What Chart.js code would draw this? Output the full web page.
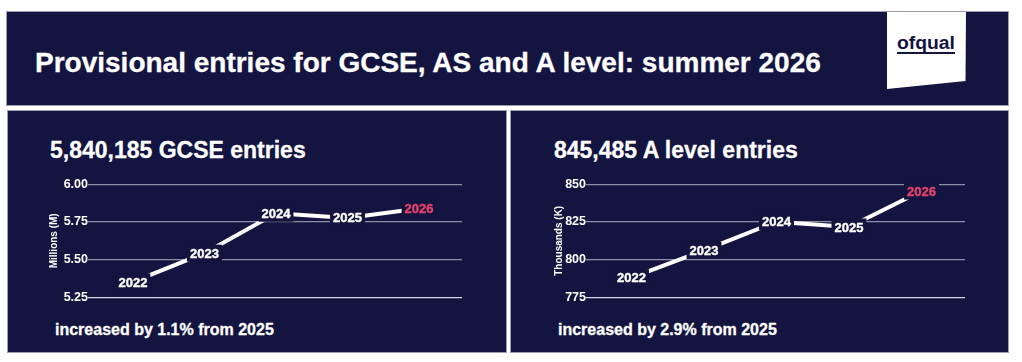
<!DOCTYPE html>
<html>
<head>
<meta charset="utf-8">
<script src="https://cdn.jsdelivr.net/npm/chart.js@4.4.1/dist/chart.umd.min.js"></script>
<style>
  body { margin: 0; background: #fff; width: 1022px; height: 362px; position: relative; overflow: hidden;
         font-family: "Liberation Sans", Arial, sans-serif; }
  .box { position: absolute; background: #13143f; box-sizing: border-box; border: 1px solid #9a9db4; }
  .txt { position: absolute; color: #fff; font-weight: bold; white-space: nowrap; line-height: 1;
         -webkit-text-stroke: 0.3px #fff; }
  canvas { position: absolute; }
</style>
</head>
<body>
<div class="box" style="left:6px;top:11px;width:1003px;height:95px;"></div>
<svg style="position:absolute;left:0;top:0" width="1022" height="120">
  <polygon points="887,12 966,12 965.5,81 887,89" fill="#fff"/>
  <text x="897" y="49" font-family="Liberation Sans, Arial" font-weight="bold" font-size="18" fill="#13143f"
        textLength="58" lengthAdjust="spacingAndGlyphs">ofqual</text>
  <rect x="897" y="52" width="58" height="2" fill="#13143f"/>
</svg>
<div class="txt" style="left:35px;top:49px;font-size:28px;">Provisional entries for GCSE, AS and A level: summer 2026</div>

<div class="box" style="left:7px;top:110px;width:500px;height:243px;"></div>
<div class="box" style="left:510px;top:110px;width:499px;height:243px;"></div>

<div class="txt" style="left:50px;top:139px;font-size:23px;">5,840,185 GCSE entries</div>
<div class="txt" style="left:554px;top:139px;font-size:23px;">845,485 A level entries</div>
<div class="txt" style="left:55px;top:322px;font-size:16px;">increased by 1.1% from 2025</div>
<div class="txt" style="left:558px;top:322px;font-size:16px;">increased by 2.9% from 2025</div>

<canvas id="gcse" width="500" height="243" style="left:7px;top:110px;"></canvas>
<canvas id="alevel" width="499" height="243" style="left:510px;top:110px;"></canvas>

<script>
const years = [2022, 2023, 2024, 2025, 2026];
const gcseValues = [5.352, 5.543, 5.808, 5.777, 5.840];      // millions
const alevelValues = [788.0, 806.1, 825.2, 821.7, 845.5];    // thousands
const gcseTicks = [5.25, 5.50, 5.75, 6.00];
const alevelTicks = [775, 800, 825, 850];

const navy = '#13143f';

// draws the year label on each point with a navy box that hides the line under it
const yearLabels = {
  id: 'yearLabels',
  afterDatasetsDraw(chart) {
    const ctx = chart.ctx;
    const meta = chart.getDatasetMeta(0);
    ctx.save();
    ctx.font = 'bold 13px "Liberation Sans", Arial, sans-serif';
    ctx.textAlign = 'center';
    ctx.textBaseline = 'middle';
    ctx.lineWidth = 0.4;
    meta.data.forEach((pt, i) => {
      const label = String(years[i]);
      const w = ctx.measureText(label).width + 6;
      const h = 17;
      ctx.fillStyle = navy;
      ctx.fillRect(pt.x - w / 2, pt.y - h / 2, w, h);
      const col = i === years.length - 1 ? '#e4426c' : '#ffffff';
      ctx.fillStyle = col;
      ctx.strokeStyle = col;
      ctx.fillText(label, pt.x, pt.y + 1);
      ctx.strokeText(label, pt.x, pt.y + 1);
    });
    ctx.restore();
  }
};

function makeChart(id, values, ticks, title, axisWidth, titlePad, rightPad, decimals) {
  const ctx = document.getElementById(id).getContext('2d');
  return new Chart(ctx, {
    type: 'line',
    data: {
      datasets: [{
        data: years.map((y, i) => ({ x: y, y: values[i] })),
        borderColor: '#ffffff',
        borderWidth: 4,
        pointRadius: 0,
        tension: 0
      }]
    },
    options: {
      animation: false,
      responsive: false,
      events: [],
      layout: { padding: { left: 0, right: rightPad, top: 74.3, bottom: 55.7 } },
      plugins: { legend: { display: false }, tooltip: { enabled: false } },
      scales: {
        x: { type: 'linear', min: 2021.4, max: 2026.6, display: false },
        y: {
          min: ticks[0],
          max: ticks[ticks.length - 1],
          afterBuildTicks: (scale) => { scale.ticks = ticks.map(v => ({ value: v })); },
          afterFit: (scale) => { scale.width = axisWidth; },
          border: { display: false },
          grid: {
            color: (c) => c.index === 0 ? '#d4d6e0' : '#8c8fa8',
            lineWidth: 1.2,
            tickLength: 2
          },
          ticks: {
            color: '#ffffff',
            padding: 0,
            font: { family: '"Liberation Sans", Arial, sans-serif', size: 12.5, weight: 'bold' },
            callback: (v) => Number(v).toFixed(decimals)
          },
          title: {
            display: true,
            text: title,
            color: '#ffffff',
            padding: { top: titlePad, bottom: 0 },
            font: { family: '"Liberation Sans", Arial, sans-serif', size: 10, weight: 'bold' }
          }
        }
      }
    },
    plugins: [yearLabels]
  });
}

makeChart('gcse', gcseValues, gcseTicks, 'Millions (M)', 83, 41, 45, 2);
makeChart('alevel', alevelValues, alevelTicks, 'Thousands (K)', 78, 43, 44, 0);
</script>
</body>
</html>
